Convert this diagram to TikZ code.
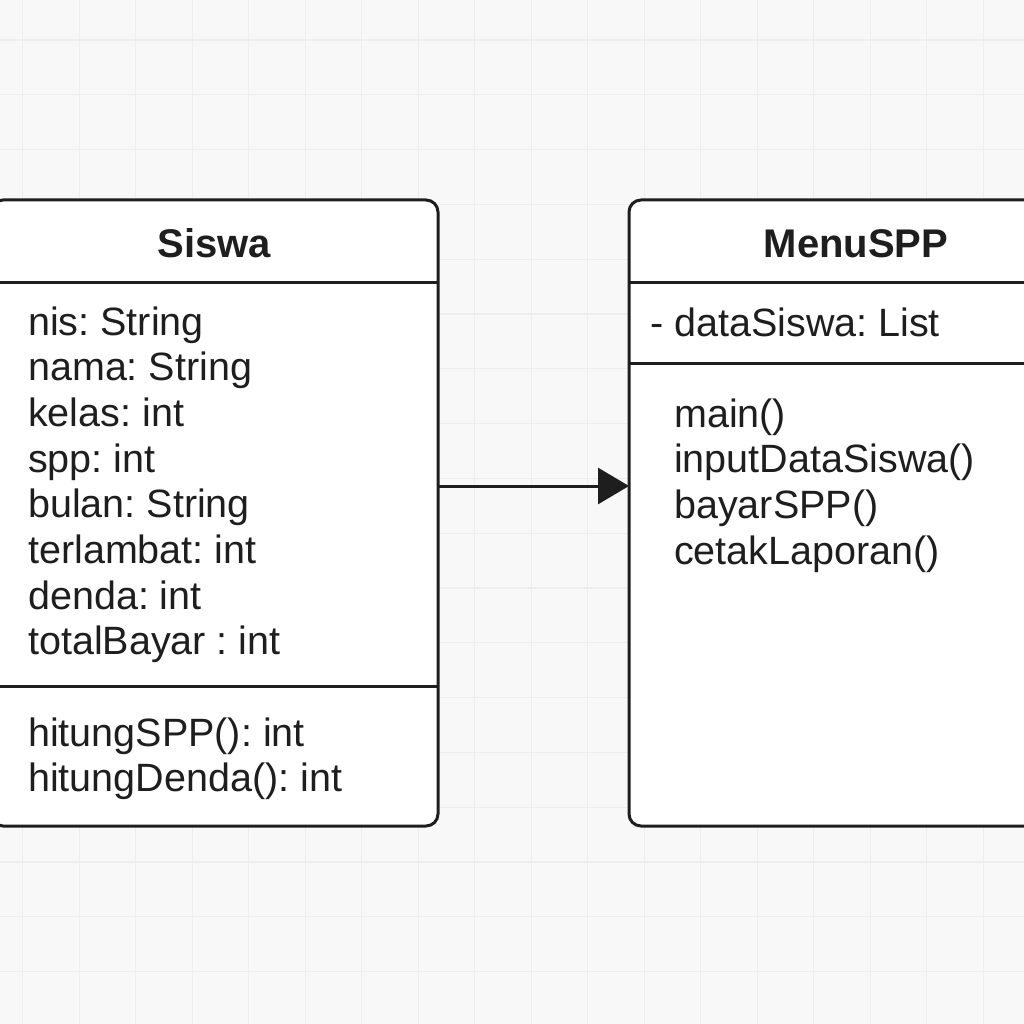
\documentclass[tikz,border=0pt]{standalone}
\usepackage{fontspec}
\setmainfont{Liberation Sans}
\usetikzlibrary{arrows.meta}
\frenchspacing
\definecolor{paper}{HTML}{F8F8F8}
\definecolor{gridline}{HTML}{EEEEEE}
\definecolor{ink}{HTML}{1E1E1E}
\tikzset{
	classbox/.style={draw=ink, fill=white, line width=3pt, rounded corners=12pt, inner sep=0pt, outer sep=0pt},
	title/.style={anchor=base, text=ink, font=\fontsize{40}{48}\selectfont\bfseries},
	member/.style={anchor=base west, inner sep=0pt, text=ink, font=\fontsize{39.5}{46}\selectfont},
	divider/.style={draw=ink, line width=3pt}
}
\begin{document}
\begin{tikzpicture}[x=1pt,y=-1pt]
	\clip (0,0) rectangle (1024,1024);
	\fill[paper] (0,0) rectangle (1024,1024);
	% grid
	\foreach \k in {0,...,18} \draw[gridline, line width=1.3pt] (22.7+56.5*\k,0) -- (22.7+56.5*\k,1024);
	\foreach \k in {0,...,18} \draw[gridline, line width=1.3pt] (0,40+54.8*\k) -- (1024,40+54.8*\k);
	% classes
	\node[classbox, minimum width=447pt, minimum height=626pt] (siswa) at (214.5,513) {};
	\node[classbox, minimum width=454pt, minimum height=626pt] (menuspp) at (856,513) {};
	\draw[divider] (siswa.west |- 0,282) -- (siswa.east |- 0,282);
	\draw[divider] (siswa.west |- 0,686) -- (siswa.east |- 0,686);
	\draw[divider] (menuspp.west |- 0,282) -- (menuspp.east |- 0,282);
	\draw[divider] (menuspp.west |- 0,363) -- (menuspp.east |- 0,363);
	\node[title] (siswaname) at (214.5,257) {Siswa};
	\node[title] (menusppname) at (856,257) {MenuSPP};
	% members
	\foreach \t [count=\i] in {nis: String, nama: String, kelas: int, spp: int, bulan: String, terlambat: int, denda: int, totalBayar : int}
		\node[member] (sattr\i) at (28,335+45.7*\i-45.7) {\t};
	\node[member] (sop1) at (28,746) {hitungSPP(): int};
	\node[member] (sop2) at (28,791) {hitungDenda(): int};
	\node[member] (mattr1) at (650,336) {- dataSiswa: List};
	\foreach \t [count=\i] in {main(), inputDataSiswa(), bayarSPP(), cetakLaporan()}
		\node[member] (mop\i) at (674,427+45.9*\i-45.9) {\t};
	% association
	\draw[ink, line width=3pt, -{Triangle[length=31pt, width=36pt]}] ([yshift=27pt]siswa.east) -- ([yshift=27pt]menuspp.west);
\end{tikzpicture}
\end{document}
